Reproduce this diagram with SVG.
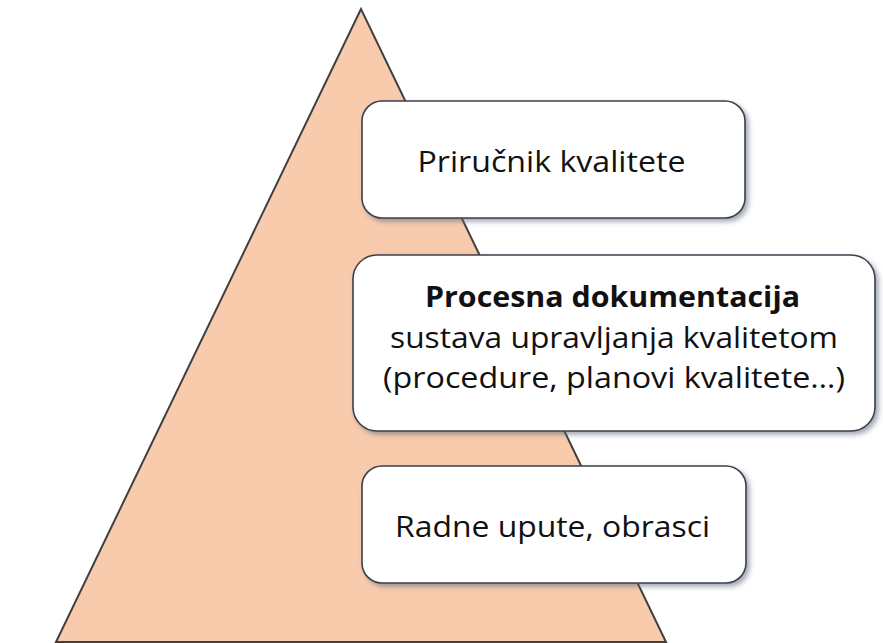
<svg xmlns="http://www.w3.org/2000/svg" width="883" height="643" viewBox="0 0 883 643">
  <defs>
    <filter id="shadow" x="-10%" y="-10%" width="125%" height="130%">
      <feDropShadow dx="3" dy="3" stdDeviation="2.5" flood-color="#5a6478" flood-opacity="0.55"/>
    </filter>
  </defs>
  <style>
    .tri { fill: #F8CBAD; stroke: #404040; stroke-width: 2; stroke-linejoin: miter; }
    .box { fill: #ffffff; stroke: #3c3f4c; stroke-width: 1.6; filter: url(#shadow); }
    .lbl { font-family: "Open Sans", "Liberation Sans", sans-serif; font-size: 29px; fill: #111111; }
    .b { font-weight: bold; }
  </style>
  <rect x="0" y="0" width="883" height="643" fill="#ffffff"/>
  <g id="pyramid">
    <polygon class="tri" points="361,9 56,642 666,642"/>
  </g>
  <g id="connectors"></g>
  <g id="node-prirucnik">
    <rect class="box" x="362" y="101" width="383" height="117" rx="20" ry="20"/>
    <text class="lbl" x="551.5" y="172" text-anchor="middle" textLength="268" lengthAdjust="spacingAndGlyphs">Priručnik kvalitete</text>
  </g>
  <g id="node-procesna">
    <rect class="box" x="353" y="255" width="522" height="176" rx="24" ry="24"/>
    <text class="lbl b" x="612.5" y="307" text-anchor="middle" textLength="375" lengthAdjust="spacingAndGlyphs">Procesna dokumentacija</text>
    <text class="lbl" x="614" y="348" text-anchor="middle" textLength="448" lengthAdjust="spacingAndGlyphs">sustava upravljanja kvalitetom</text>
    <text class="lbl" x="614" y="388" text-anchor="middle" textLength="462" lengthAdjust="spacingAndGlyphs">(procedure, planovi kvalitete…)</text>
  </g>
  <g id="node-radne">
    <rect class="box" x="362" y="466" width="384" height="117" rx="20" ry="20"/>
    <text class="lbl" x="552.5" y="537" text-anchor="middle" textLength="315" lengthAdjust="spacingAndGlyphs">Radne upute, obrasci</text>
  </g>
</svg>
